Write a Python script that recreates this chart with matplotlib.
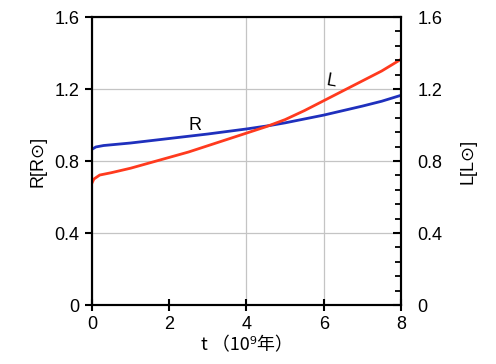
import matplotlib
matplotlib.use("Agg")
import matplotlib.pyplot as plt
import numpy as np
from matplotlib.ticker import MultipleLocator

# Data
t_R = [0.0, 0.1, 0.3, 1.0, 2.0, 3.0, 4.0, 4.6, 5.0, 6.0, 7.0, 7.5, 8.0]
R_vals = [0.865, 0.878, 0.886, 0.900, 0.925, 0.950, 0.978, 0.997, 1.012, 1.055, 1.105, 1.132, 1.165]
t_L = [0.0, 0.05, 0.2, 0.5, 1.0, 1.5, 2.0, 2.5, 3.0, 3.5, 4.0, 4.5, 5.0, 5.5, 6.0, 6.5, 7.0, 7.5, 8.0]
L_vals = [0.678, 0.700, 0.722, 0.735, 0.760, 0.790, 0.820, 0.850, 0.885, 0.920, 0.955, 0.990, 1.030, 1.080, 1.135, 1.190, 1.245, 1.300, 1.365]
x_ticks = [0, 2, 4, 6, 8]
y_ticks = [0, 0.4, 0.8, 1.2, 1.6]
y_tick_labels = ["0", "0.4", "0.8", "1.2", "1.6"]

plt.rcParams['font.family'] = ['Liberation Sans', 'DejaVu Sans', 'Noto Sans CJK JP']

fig = plt.figure(figsize=(4.96, 3.64), dpi=100)
ax = fig.add_axes([92/496, 1 - 305/364, (401-92)/496, (305-17)/364])

blue = '#1f30bd'
red = '#ff3a1e'
ax.plot(t_R, R_vals, color=blue, lw=2.0, zorder=3)
ax.plot(t_L, L_vals, color=red, lw=2.0, zorder=3)

ax.set_xlim(0, 8)
ax.set_ylim(0, 1.6)
ax.set_xticks(x_ticks)
ax.set_yticks(y_ticks)
ax.set_yticklabels(y_tick_labels)
ax.grid(True, color='#c4c4c4', lw=0.9, zorder=0)
ax.get_xgridlines()[1].set_visible(False)
for s in ax.spines.values():
    s.set_linewidth(1.5)
    s.set_color('black')
ax.tick_params(axis='y', direction='out', length=5, width=1.5, labelsize=13, pad=4)
ax.tick_params(axis='x', direction='inout', length=8, width=1.5, labelsize=13, pad=4)

ax2 = ax.twinx()
ax2.set_ylim(0, 1.6)
ax2.set_yticks(y_ticks)
ax2.set_yticklabels(y_tick_labels)
ax2.yaxis.set_minor_locator(MultipleLocator(0.08))
ax2.tick_params(axis='y', which='major', direction='in', length=6, width=1.5, labelsize=13, pad=12)
ax2.tick_params(axis='y', which='minor', direction='in', length=4, width=1.3)
for s in ax2.spines.values():
    s.set_linewidth(1.5)

ax.set_ylabel('R[R⊙]', fontsize=13, labelpad=6)
ax2.set_ylabel('L[L⊙]', fontsize=13, rotation=90, labelpad=12)
ax.set_xlabel('t （10⁹年）', fontsize=13, family=['Noto Sans CJK JP', 'DejaVu Sans'], labelpad=2)

ax.text(2.67, 1.0, 'R', fontsize=13, ha='center', va='center')
ax.text(6.2, 1.24, 'L', fontsize=13, ha='center', va='center', rotation=-10)

fig.savefig('out.png', dpi=100)
